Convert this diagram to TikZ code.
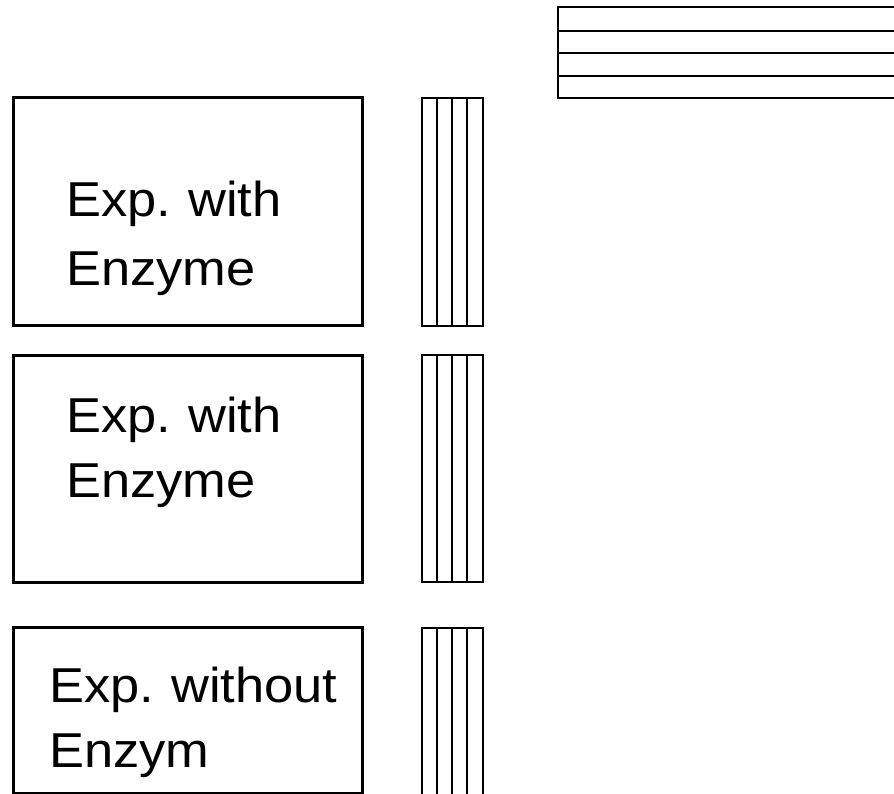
\documentclass[tikz,border=0pt]{standalone}
\usepackage{fontspec}
\setmainfont{Liberation Sans}
\begin{document}
\begin{tikzpicture}[x=1pt,y=-1pt,
  expbox/.style={draw,line width=3pt,rectangle,inner sep=0pt},
  label/.style={anchor=base west,inner sep=0pt,font=\fontsize{49}{53}\selectfont},
  thin/.style={line width=1.6pt}]
\useasboundingbox (0,0) rectangle (894,793);
\clip (0,0) rectangle (894,793);
% boxes
\node[expbox,minimum width=349pt,minimum height=228pt] (b1) at (187.5,211) {};
\node[expbox,minimum width=349pt,minimum height=227pt] (b2) at (187.5,468.5) {};
\node[expbox,minimum width=349pt,minimum height=166pt] (b3) at (187.5,710) {};
% texts
\node[label] (t1a) at (66,216) {\scalebox{1.07}[1]{Exp.\kern-2pt{} with}};
\node[label] (t1b) at (66,285) {\scalebox{1.07}[1]{Enzyme}};
\node[label] (t2a) at (66,432) {\scalebox{1.07}[1]{Exp.\kern-2pt{} with}};
\node[label] (t2b) at (66,497) {\scalebox{1.07}[1]{Enzyme}};
\node[label] (t3a) at (49,702) {\scalebox{1.07}[1]{Exp.\kern-2pt{} without}};
\node[label] (t3b) at (49,767) {\scalebox{1.07}[1]{Enzym}};
% vertical bar groups
\foreach \t/\b in {98/326, 355/582, 628/820}{
  \draw[thin] (422,\t) rectangle (483,\b);
  \foreach \x in {437,452,467} \draw[thin] (\x,\t) -- (\x,\b);
}
% top table
\draw[thin] (558,7) rectangle (910,98);
\foreach \y in {31,53,76} \draw[thin] (558,\y) -- (910,\y);
\end{tikzpicture}
\end{document}
